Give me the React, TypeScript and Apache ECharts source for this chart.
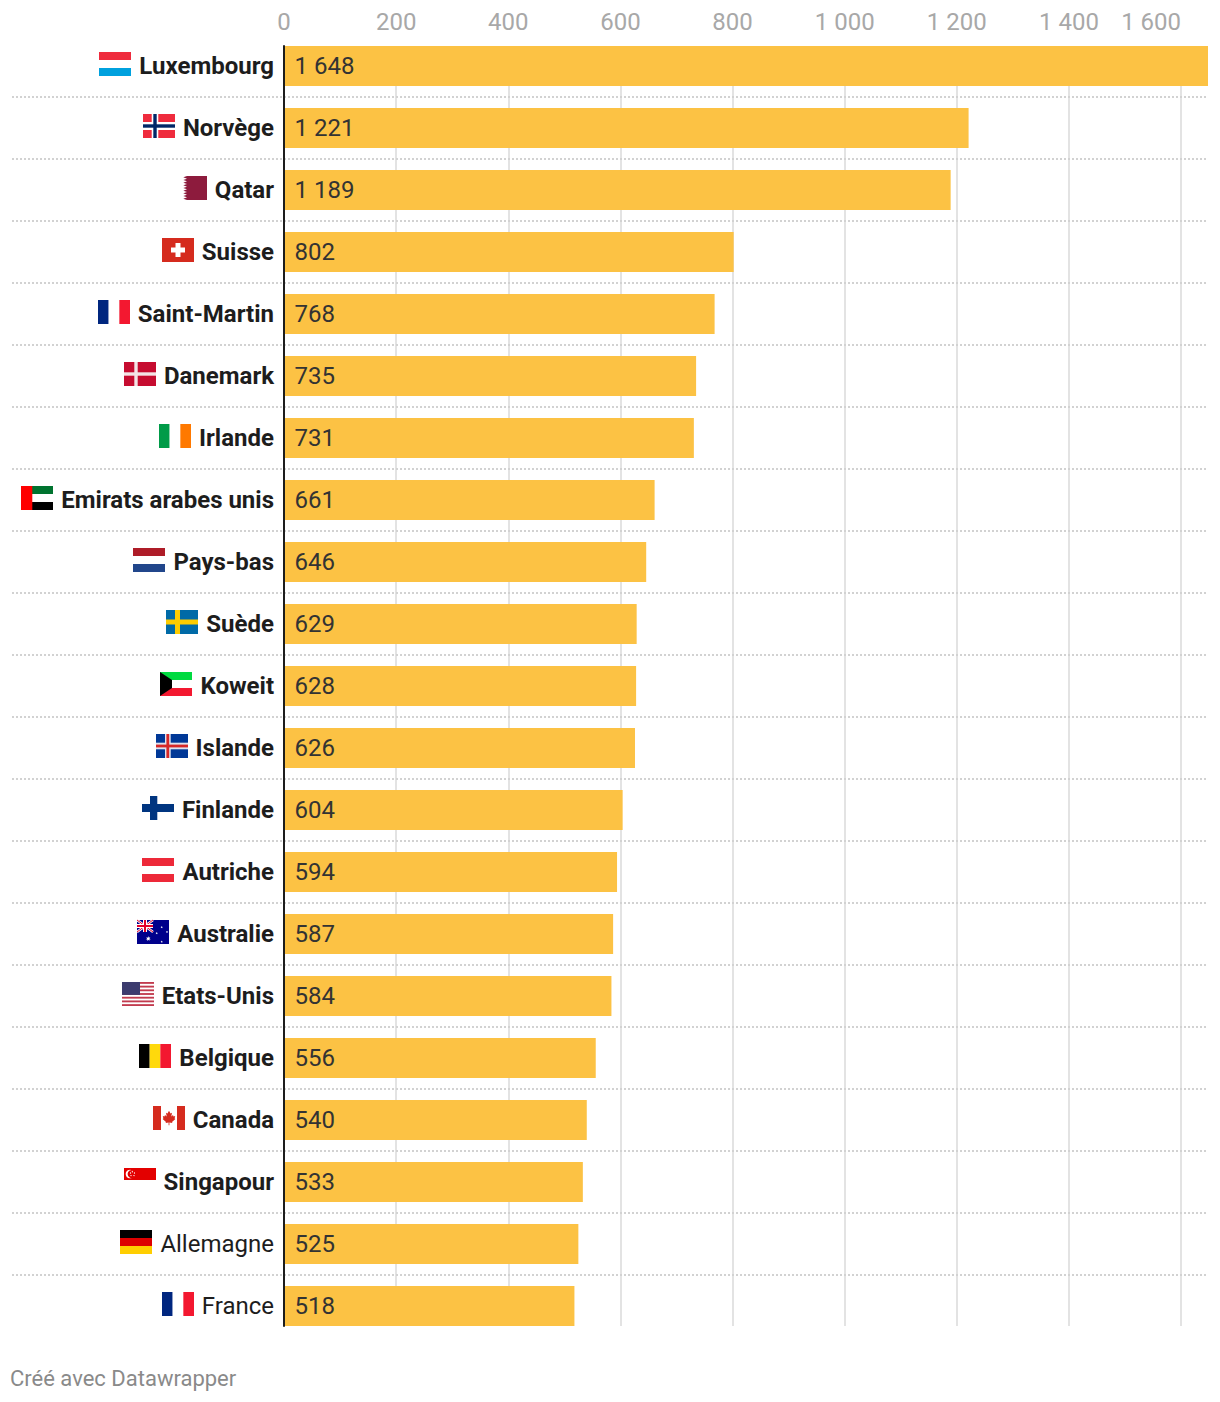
import React, { useEffect, useRef } from "react";
import * as echarts from "echarts";

const countries = ["Luxembourg","Norvège","Qatar","Suisse","Saint-Martin","Danemark","Irlande","Emirats arabes unis","Pays-bas","Suède","Koweit","Islande","Finlande","Autriche","Australie","Etats-Unis","Belgique","Canada","Singapour","Allemagne","France"];
const values = [1648,1221,1189,802,768,735,731,661,646,629,628,626,604,594,587,584,556,540,533,525,518];
const regularWeight = ["Allemagne","France"];
const axisMax = 1648;
const tickStep = 200;

const BAR = "#fcc244";
const INK = "#1d1d1d";
const FONT = "Roboto";

type Prim = any;
const R = (x:number,y:number,w:number,h:number,fill:string):Prim => ({type:"rect",shape:{x,y,width:w,height:h},style:{fill}});
const P = (points:number[][],fill:string):Prim => ({type:"polygon",shape:{points},style:{fill}});
const C = (cx:number,cy:number,r:number,fill:string):Prim => ({type:"circle",shape:{cx,cy,r},style:{fill}});
const L = (x1:number,y1:number,x2:number,y2:number,w:number,stroke:string):Prim => ({type:"line",shape:{x1,y1,x2,y2},style:{stroke,lineWidth:w}});
const S = (cx:number,cy:number,r:number,fill:string,n=5):Prim => {
  const pts:number[][] = [];
  for (let i=0;i<n*2;i++){ const a=-Math.PI/2+i*Math.PI/n; const q=i%2?r*0.45:r; pts.push([cx+q*Math.cos(a),cy+q*Math.sin(a)]); }
  return P(pts,fill);
};
const hBands = (a:string,b:string,c:string) => [R(0,0,32,8,a),R(0,8,32,8,b),R(0,16,32,8,c)];
const vBands = (a:string,b:string,c:string) => [R(0,0,10.67,24,a),R(10.67,0,10.67,24,b),R(21.33,0,10.67,24,c)];
const W = "#ffffff";
const frBlue = "#00267f", frRed = "#f31830", noRed = "#ef2b3d";

const qatarEdge = ():number[][] => {
  const pts:number[][] = [[32,0],[12,0]];
  const teeth = 9; const step = 24/teeth;
  for (let i=0;i<teeth;i++){ pts.push([8.3,(i+0.5)*step]); pts.push([12,(i+1)*step]); }
  pts.push([32,24]);
  return pts;
};
const usStripes = ():Prim[] => {
  const out:Prim[] = [R(0,0,32,24,W)];
  for (let i=0;i<7;i++) out.push(R(0,i*2*24/13,32,24/13,"#c23b4e"));
  out.push(R(0,0,18,12.9,"#3c3b6e"));
  for (let r=0;r<7;r++) for (let c=0;c<9;c++) out.push(C(1+c*2,1+r*1.8,0.42,"#aab"));
  return out;
};
const unionJack = ():Prim[] => [
  L(0,0,16,12,2.4,W),L(16,0,0,12,2.4,W),L(0,0,16,12,1,"#e4002b"),L(16,0,0,12,1,"#e4002b"),
  R(6,0,4,12,W),R(0,4,16,4,W),R(7,0,2,12,"#e4002b"),R(0,5,16,2,"#e4002b"),
];

const flags:Record<string,Prim[]> = {
  "Luxembourg": hBands(noRed,W,"#00a1de"),
  "Norvège": [R(0,0,32,24,noRed),R(8.7,0,6.6,24,W),R(0,8,32,8,W),R(10.3,0,3.4,24,"#002868"),R(0,10.3,32,3.4,"#002868")],
  "Qatar": [P(qatarEdge(),"#8d1b3d")],
  "Suisse": [R(0,0,32,24,"#d52b1e"),R(13.5,5,5,14,W),R(9,9.5,14,5,W)],
  "Saint-Martin": vBands(frBlue,W,frRed),
  "Danemark": [R(0,0,32,24,"#c60c30"),R(10.3,0,3.4,24,"#f3e4e6"),R(0,10.3,32,3.4,"#f3e4e6")],
  "Irlande": vBands("#009b48",W,"#ff7900"),
  "Emirats arabes unis": [R(0,0,32,8,"#00732f"),R(0,8,32,8,W),R(0,16,32,8,"#000"),R(0,0,11.3,24,"#ff0000")],
  "Pays-bas": hBands("#ae1c28",W,"#21468b"),
  "Suède": [R(0,0,32,24,"#006aa7"),R(9,0,5,24,"#fecc00"),R(0,9.5,32,5,"#fecc00")],
  "Koweit": [...hBands("#00da40",W,frRed),P([[0,0],[12,8],[12,16],[0,24]],"#000")],
  "Islande": [R(0,0,32,24,"#003897"),R(9,0,5.7,24,"#dfe3ef"),R(0,8.7,32,6.6,"#dfe3ef"),R(10.4,0,2.8,24,"#d72828"),R(0,10.6,32,2.8,"#d72828")],
  "Finlande": [R(0,0,32,24,W),R(8,0,7.3,24,"#003580"),R(0,8,32,8,"#003580")],
  "Autriche": hBands("#ed2939",W,"#ed2939"),
  "Australie": [R(0,0,32,24,"#00008b"),...unionJack(),S(11.3,18.7,2.6,W,7),S(24.7,7.3,1.2,W),S(19.7,13.3,1.2,W),S(30,12,1.2,W),S(24.7,21.7,1.2,W)],
  "Etats-Unis": usStripes(),
  "Belgique": vBands("#000000","#ffd90c",frRed),
  "Canada": [R(0,0,8,24,"#d52b1e"),R(8,0,16,24,W),R(24,0,8,24,"#d52b1e"),
    P([[16,4.7],[17.5,7.5],[19,6.8],[18.3,10.5],[20,9],[20.5,10.4],[22.2,10.1],[21.6,12.5],[22.4,13],[19,16],[19.4,17],[16.4,16.6],[16.4,19.3],[15.6,19.3],[15.6,16.6],[12.6,17],[13,16],[9.6,13],[10.4,12.5],[9.8,10.1],[11.5,10.4],[12,9],[13.7,10.5],[13,6.8],[14.5,7.5]],"#d52b1e")],
  "Singapour": [R(0,0,32,12,"#e30000"),C(6,6,4.3,W),C(7.6,6,4,"#e30000"),C(8.3,3.7,.6,W),C(10.5,5,.6,W),C(10,7.6,.6,W),C(7,7.6,.6,W),C(6.5,5,.6,W)],
  "Allemagne": hBands("#000000","#dd0000","#ffce00"),
  "France": vBands(frBlue,W,frRed),
};

const spaced = (v:number) => String(v).replace(/\B(?=(\d{3})+$)/g," ");

export default function App(){
  const ref = useRef<HTMLDivElement>(null);
  useEffect(()=>{
    const chart = echarts.init(ref.current!, undefined, {renderer:"svg"});
    const ctx = document.createElement("canvas").getContext("2d")!;
    const labelWidth = (name:string) => {
      ctx.font = `${regularWeight.includes(name)?400:700} 24px ${FONT}`;
      return ctx.measureText(name).width;
    };
    const GRID_LEFT = 284, GRID_W = 924, LABEL_GAP = 10, FLAG_GAP = 8, FLAG_W = 32, FLAG_UP = 14, RULE_LEFT = 12;
    chart.setOption({
      animation:false,
      backgroundColor:"#ffffff",
      textStyle:{fontFamily:FONT},
      grid:[
        {left:GRID_LEFT,width:GRID_W,top:35,height:1302},
        {left:GRID_LEFT,width:GRID_W,top:46,height:1280},
      ],
      xAxis:[
        {gridIndex:0,type:"value",min:0,max:axisMax,show:false},
        {gridIndex:1,type:"value",position:"top",min:0,max:axisMax,interval:tickStep,
          axisLine:{show:false},axisTick:{show:false},
          splitLine:{show:true,showMinLine:false,showMaxLine:false,lineStyle:{color:"#e3e3e3",width:2}},
          axisLabel:{show:true,showMaxLabel:false,margin:12,fontFamily:FONT,fontSize:24,color:"#a8a8a8",
            formatter:(v:number)=> v===1600 ? `{shift|${spaced(v)}}` : spaced(v),
            rich:{shift:{fontFamily:FONT,fontSize:24,color:"#a8a8a8",padding:[0,60,0,0]}},
          },
        },
      ],
      yAxis:[
        {gridIndex:0,type:"category",inverse:true,
          data:countries.map(n=>({value:n,textStyle:{fontWeight:regularWeight.includes(n)?400:700}})),
          axisLine:{show:false},axisTick:{show:false},splitLine:{show:false},
          axisLabel:{margin:LABEL_GAP,fontFamily:FONT,fontSize:24,color:INK,fontWeight:700,interval:0},
        },
        {gridIndex:1,type:"value",min:0,max:1,z:6,
          axisLine:{show:true,lineStyle:{color:INK,width:2}},axisTick:{show:false},axisLabel:{show:false},splitLine:{show:false},
        },
      ],
      series:[
        {type:"custom",xAxisIndex:0,yAxisIndex:0,z:1,silent:true,clip:false,
          data:countries.map((_,i)=>[0,i]),
          renderItem:(params:any,api:any)=>{
            const i = params.dataIndex;
            const [x0,cy] = api.coord([0,api.value(1)]);
            const children:any[] = [];
            if(i<countries.length-1){
              children.push({type:"line",shape:{x1:RULE_LEFT,y1:cy+31,x2:GRID_LEFT+GRID_W,y2:cy+31},
                style:{stroke:"#d2d2d2",lineWidth:2,lineDash:[2,2]}});
            }
            const name = countries[i];
            children.push({type:"group",x:Math.round(x0-LABEL_GAP-labelWidth(name)-FLAG_GAP-FLAG_W),y:cy-FLAG_UP,children:flags[name]});
            return {type:"group",children};
          },
        },
        {type:"bar",xAxisIndex:0,yAxisIndex:0,z:2,barWidth:40,data:values,
          itemStyle:{color:BAR},
          label:{show:true,position:"insideLeft",distance:10.5,fontFamily:FONT,fontSize:24,color:"#333333",
            formatter:(p:any)=>spaced(p.value)},
        },
      ],
      graphic:[{type:"text",x:10,y:1367,style:{text:"Créé avec Datawrapper",fontFamily:FONT,fontSize:22,fill:"#8a8a8a"}}],
    });
    return ()=>chart.dispose();
  },[]);
  return <div ref={ref} style={{position:"absolute",left:0,top:0,width:1220,height:1402}}/>;
}
